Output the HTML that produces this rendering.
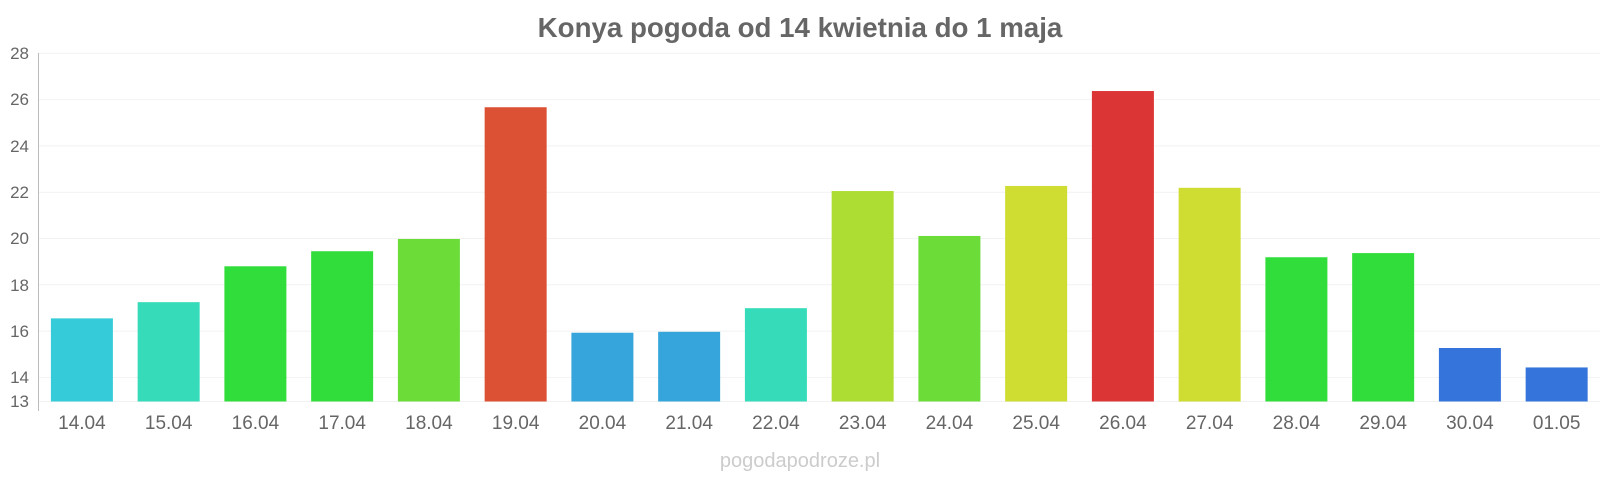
<!DOCTYPE html>
<html><head><meta charset="utf-8"><style>html,body{margin:0;padding:0;background:#fff}svg{display:block}</style></head>
<body>
<svg width="1600" height="480" xmlns="http://www.w3.org/2000/svg" font-family="Liberation Sans, sans-serif">
<text x="800" y="37" text-anchor="middle" font-size="27.7" font-weight="bold" fill="#666">Konya pogoda od 14 kwietnia do 1 maja</text>
<g stroke="#f2f2f2" stroke-width="1">
<line x1="38" x2="1600" y1="53.3" y2="53.3"/>
<line x1="38" x2="1600" y1="99.6" y2="99.6"/>
<line x1="38" x2="1600" y1="145.9" y2="145.9"/>
<line x1="38" x2="1600" y1="192.2" y2="192.2"/>
<line x1="38" x2="1600" y1="238.5" y2="238.5"/>
<line x1="38" x2="1600" y1="284.8" y2="284.8"/>
<line x1="38" x2="1600" y1="331.1" y2="331.1"/>
<line x1="38" x2="1600" y1="377.4" y2="377.4"/>
<line x1="38" x2="1600" y1="401.5" y2="401.5"/>
</g>
<line x1="38.5" x2="38.5" y1="53" y2="411" stroke="#bbb" stroke-width="1"/>
<g font-size="17" fill="#666" text-anchor="end">
<text x="29" y="59">28</text>
<text x="29" y="105">26</text>
<text x="29" y="152">24</text>
<text x="29" y="198">22</text>
<text x="29" y="244">20</text>
<text x="29" y="291">18</text>
<text x="29" y="337">16</text>
<text x="29" y="383">14</text>
<text x="29" y="407">13</text>
</g>
<g id="bars"></g>
<g id="labels" font-size="19" fill="#666" text-anchor="middle"></g>
<text x="800" y="467" text-anchor="middle" font-size="20" fill="#ccc">pogodapodroze.pl</text>
<script>
var d=[["14.04",16.55,"#36cbd9"],["15.04",17.25,"#36dbb9"],["16.04",18.8,"#31dd3a"],["17.04",19.45,"#31dd3a"],["18.04",19.98,"#6bdc38"],["19.04",25.67,"#dc5033"],["20.04",15.93,"#36a5db"],["21.04",15.97,"#36a5db"],["22.04",16.99,"#36dbb9"],["23.04",22.05,"#addd33"],["24.04",20.11,"#6bdc38"],["25.04",22.27,"#cfdc32"],["26.04",26.37,"#dc3535"],["27.04",22.19,"#cfdc32"],["28.04",19.19,"#31dd3a"],["29.04",19.37,"#31dd3a"],["30.04",15.27,"#3575db"],["01.05",14.43,"#3575db"]];
var ns="http://www.w3.org/2000/svg",b=document.getElementById("bars"),l=document.getElementById("labels");
d.forEach(function(r,i){var x=38.5+i*86.75+12.4,y=53.3+(28-r[1])*23.15;
var e=document.createElementNS(ns,"rect");e.setAttribute("x",x);e.setAttribute("y",y);e.setAttribute("width",62);e.setAttribute("height",401.5-y);e.setAttribute("fill",r[2]);b.appendChild(e);
var t=document.createElementNS(ns,"text");t.setAttribute("x",x+31);t.setAttribute("y",429);t.textContent=r[0];l.appendChild(t);});
</script>
</svg>
</body></html>
